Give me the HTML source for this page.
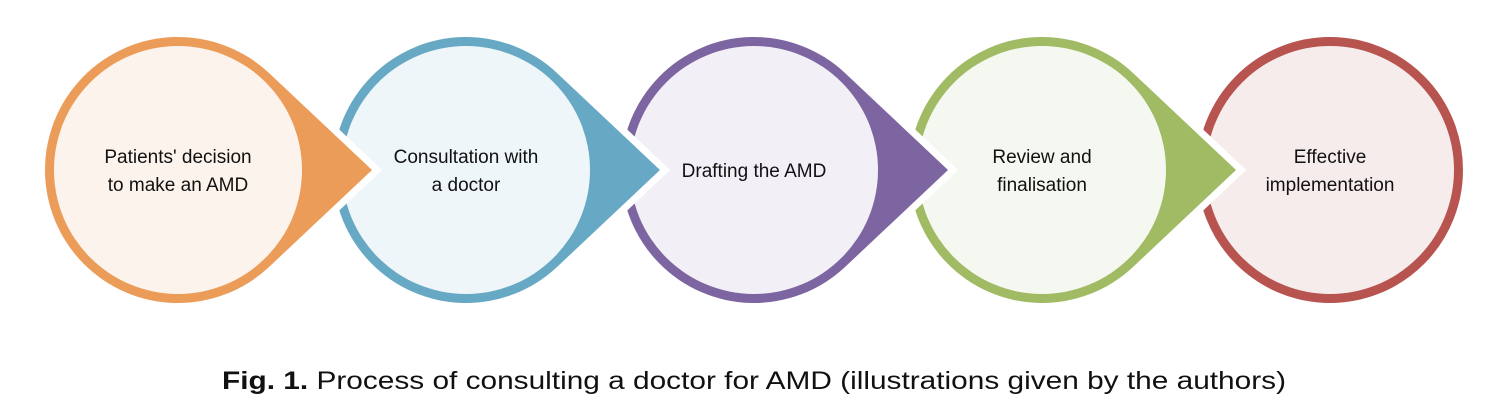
<!DOCTYPE html>
<html><head><meta charset="utf-8"><style>
html,body{margin:0;padding:0;background:#fff;}
svg{display:block;}
</style></head><body>
<svg width="1506" height="418" viewBox="0 0 1506 418" xmlns="http://www.w3.org/2000/svg" font-family="'Liberation Sans', sans-serif">
<defs>
<path id="tear" d="M91,-97 A133,133 0 1 0 91,97 L194,0 Z"/>
</defs>
<!-- red -->
<g transform="translate(1330,170)">
<circle r="128.5" fill="#f7ecec" stroke="#b85450" stroke-width="9"/>
</g>
<!-- green -->
<g transform="translate(1042,170)">
<use href="#tear" fill="#fff" stroke="#fff" stroke-width="14"/>
<use href="#tear" fill="#a0bb64"/>
<circle r="124" fill="#f5f8f0"/>
</g>
<!-- purple -->
<g transform="translate(754,170)">
<use href="#tear" fill="#fff" stroke="#fff" stroke-width="14"/>
<use href="#tear" fill="#7c65a0"/>
<circle r="124" fill="#f2eff6"/>
</g>
<!-- blue -->
<g transform="translate(466,170)">
<use href="#tear" fill="#fff" stroke="#fff" stroke-width="14"/>
<use href="#tear" fill="#67a9c4"/>
<circle r="124" fill="#eef6f9"/>
</g>
<!-- orange -->
<g transform="translate(178,170)">
<use href="#tear" fill="#fff" stroke="#fff" stroke-width="14"/>
<use href="#tear" fill="#eb9c58"/>
<circle r="124" fill="#fcf3ec"/>
</g>
<g font-size="19" fill="#111" text-anchor="middle">
<text x="178" y="163">Patients' decision</text>
<text x="178" y="191">to make an AMD</text>
<text x="466" y="163">Consultation with</text>
<text x="466" y="191">a doctor</text>
<text x="754" y="177">Drafting the AMD</text>
<text x="1042" y="163">Review and</text>
<text x="1042" y="191">finalisation</text>
<text x="1330" y="163">Effective</text>
<text x="1330" y="191">implementation</text>
</g>
<text x="222" y="389" font-size="25" fill="#111" textLength="1064" lengthAdjust="spacingAndGlyphs"><tspan font-weight="bold">Fig. 1.</tspan> Process of consulting a doctor for AMD (illustrations given by the authors)</text>
</svg>
</body></html>
